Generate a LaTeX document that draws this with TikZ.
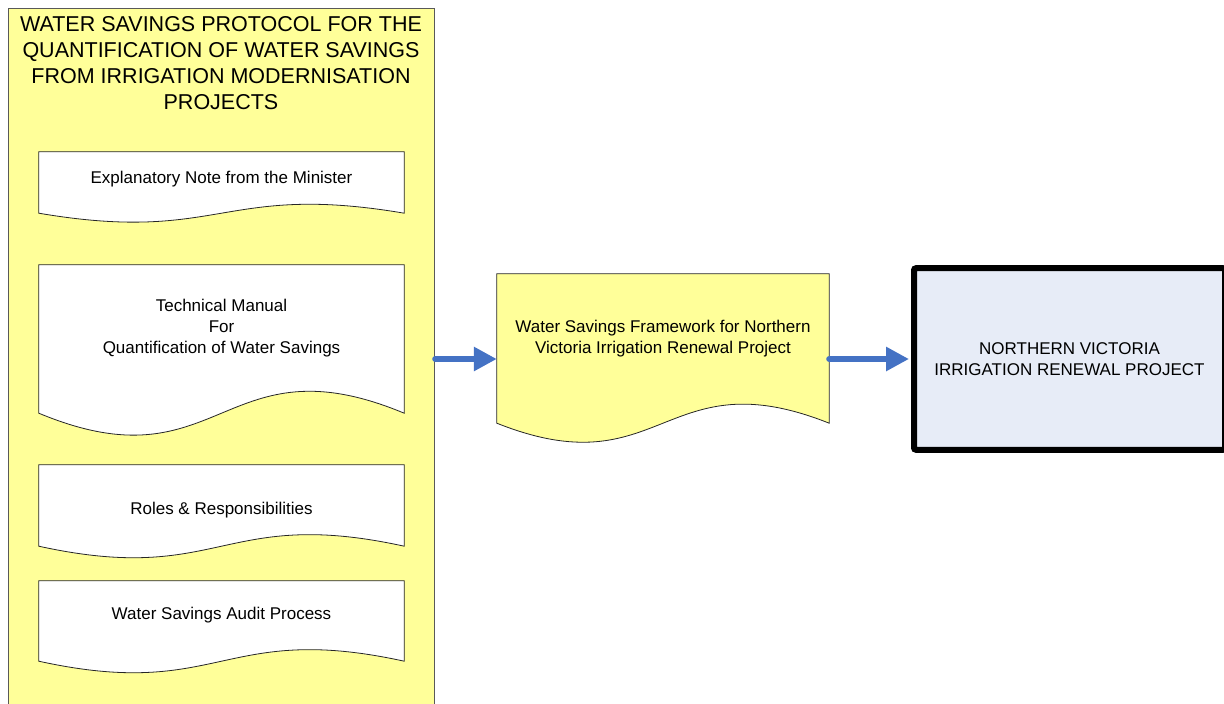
\documentclass[tikz,border=0pt]{standalone}
\usepackage{fontspec}
\setmainfont{Liberation Sans}
\usepackage{tikz}
\usetikzlibrary{arrows.meta}
\definecolor{protoyellow}{HTML}{FFFF99}
\definecolor{flowblue}{HTML}{4472C4}
\definecolor{projectblue}{HTML}{E7ECF7}

\begin{document}
\begin{tikzpicture}[x=1bp, y=-1bp, font=\fontsize{17bp}{21bp}\selectfont,
  docline/.style={draw=black!85, line width=0.8bp, fill=white},
  docarea/.style={minimum width=365bp, inner sep=0pt},
  doctext/.style={align=center, inner sep=0pt},
  flow/.style={flowblue, line width=6bp, line cap=round, -{Triangle[length=23bp, width=23bp]}}]
  \clip (0,0) rectangle (1224,704);
  \node[draw=black!65, line width=1.2bp, fill=protoyellow, minimum width=426bp, minimum height=720bp, anchor=north west, inner sep=0pt] (protocol) at (8,8) {};
  \node[align=center, inner sep=0pt, font=\fontsize{21.5bp}{25.8bp}\selectfont] (title) at (221,63) {WATER SAVINGS PROTOCOL FOR THE\\ QUANTIFICATION OF WATER SAVINGS\\ FROM IRRIGATION MODERNISATION\\ PROJECTS};

  % protocol parts
  \node[docarea, minimum height=61bp] (note) at (221.5,182.5) {};
  \draw[docline] (note.north west) -- (note.south west) .. controls +(182.5,31) and +(-182.5,-31) .. (note.south east) -- (note.north east) -- cycle;
  \node[doctext] (notetext) at (221.5,179) {Explanatory Note from the Minister};

  \node[docarea, minimum height=148bp] (manual) at (221.5,339) {};
  \draw[docline] (manual.north west) -- (manual.south west) .. controls +(182.5,76) and +(-182.5,-76) .. (manual.south east) -- (manual.north east) -- cycle;
  \node[doctext] (manualtext) at (221.5,328.5) {Technical Manual\\ For\\ Quantification of Water Savings};

  \node[docarea, minimum height=81bp] (roles) at (221.5,505.5) {};
  \draw[docline] (roles.north west) -- (roles.south west) .. controls +(182.5,40) and +(-182.5,-40) .. (roles.south east) -- (roles.north east) -- cycle;
  \node[doctext] (rolestext) at (221.5,510.5) {Roles \& Responsibilities};

  \node[docarea, minimum height=80bp] (audit) at (221.5,621) {};
  \draw[docline] (audit.north west) -- (audit.south west) .. controls +(182.5,40) and +(-182.5,-40) .. (audit.south east) -- (audit.north east) -- cycle;
  \node[doctext] (audittext) at (221.5,615.5) {Water Savings Audit Process};

  % framework and project
  \node[inner sep=0pt, minimum width=332bp, minimum height=149bp] (framework) at (663,348.5) {};
  \draw[docline, fill=protoyellow] (framework.north west) -- (framework.south west) .. controls +(166,66) and +(-166,-66) .. (framework.south east) -- (framework.north east) -- cycle;
  \node[doctext] (frameworktext) at (663,338.5) {Water Savings Framework for Northern\\ Victoria Irrigation Renewal Project};

  \node[draw=black, line width=6bp, rounded corners=2bp, fill=projectblue, minimum width=311bp, minimum height=181.5bp, align=center, inner sep=0pt] (nvirp) at (1069.5,359) {NORTHERN VICTORIA\\ IRRIGATION RENEWAL PROJECT};

  \draw[flow] (protocol.east |- nvirp.west) -- (framework.west |- nvirp.west);
  \draw[flow, shorten >=2bp] (framework.east |- nvirp.west) -- (nvirp.west);
\end{tikzpicture}
\end{document}
